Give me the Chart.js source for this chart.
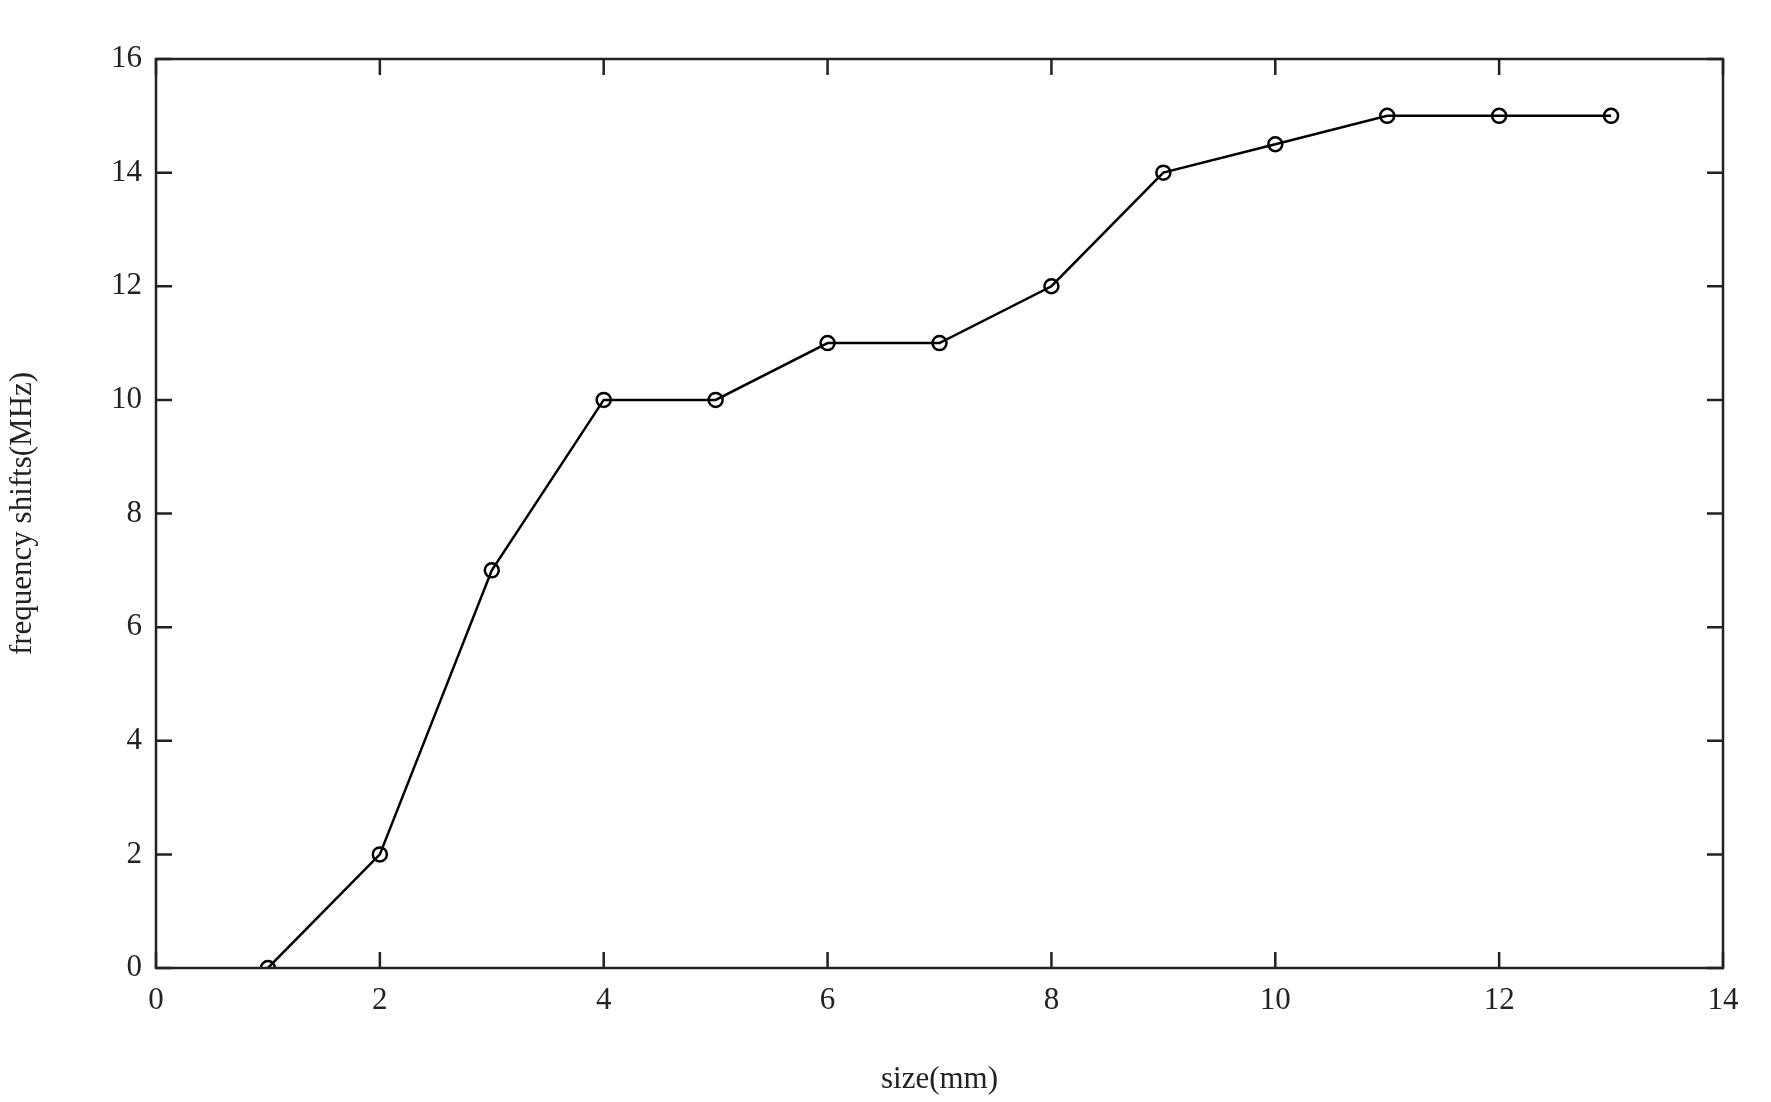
<!DOCTYPE html>
<html>
<head>
<meta charset="utf-8">
<script src="https://cdn.jsdelivr.net/npm/chart.js@4"></script>
<style>
  html, body { margin: 0; background: #fff; }
  #wrap { width: 1771px; height: 1102px; }
</style>
</head>
<body>
<div id="wrap"><canvas id="c"></canvas></div>
<script>
const sizes = [1, 2, 3, 4, 5, 6, 7, 8, 9, 10, 11, 12, 13];
const shifts = [0, 2, 7, 10, 10, 11, 11, 12, 14, 14.5, 15, 15, 15];
const xTicks = [0, 2, 4, 6, 8, 10, 12, 14];
const yTicks = [0, 2, 4, 6, 8, 10, 12, 14, 16];

const ink = '#222';
const font = { family: '"Liberation Serif", "Times New Roman", serif', size: 31 };

// inward ticks on all four sides plus the box, MATLAB style
const boxTicks = {
    id: 'boxTicks',
    afterDraw(chart) {
        const { ctx, chartArea: a, scales: { x, y } } = chart;
        ctx.save();
        ctx.strokeStyle = ink;
        ctx.lineWidth = 2.5;
        ctx.strokeRect(a.left, a.top, a.right - a.left, a.bottom - a.top);
        const len = 16;
        ctx.beginPath();
        xTicks.forEach(v => {
            const px = x.getPixelForValue(v);
            ctx.moveTo(px, a.bottom); ctx.lineTo(px, a.bottom - len);
            ctx.moveTo(px, a.top); ctx.lineTo(px, a.top + len);
        });
        yTicks.forEach(v => {
            const py = y.getPixelForValue(v);
            ctx.moveTo(a.left, py); ctx.lineTo(a.left + len, py);
            ctx.moveTo(a.right, py); ctx.lineTo(a.right - len, py);
        });
        ctx.stroke();
        ctx.restore();
    }
};

new Chart(document.getElementById('c'), {
    type: 'line',
    data: {
        datasets: [{
            data: sizes.map((s, i) => ({ x: s, y: shifts[i] })),
            borderColor: '#000',
            borderWidth: 2.5,
            pointStyle: 'circle',
            pointRadius: 7,
            pointBorderWidth: 2.5,
            pointBackgroundColor: 'rgba(0,0,0,0)',
            pointBorderColor: '#000',
            tension: 0
        }]
    },
    options: {
        responsive: true,
        maintainAspectRatio: false,
        animation: false,
        layout: { padding: { top: 59, right: 48, left: 0, bottom: 0 } },
        plugins: { legend: { display: false }, tooltip: { enabled: false } },
        scales: {
            x: {
                type: 'linear', min: 0, max: 14,
                afterBuildTicks: s => { s.ticks = xTicks.map(v => ({ value: v })); },
                afterFit: s => { s.height = 134; },
                grid: { display: false, drawTicks: false },
                border: { display: false },
                ticks: { color: ink, font, padding: 14 },
                title: { display: true, text: 'size(mm)', color: ink, font, padding: { top: 0 } }
            },
            y: {
                type: 'linear', min: 0, max: 16,
                afterBuildTicks: s => { s.ticks = yTicks.map(v => ({ value: v })); },
                afterFit: s => { s.width = 156; },
                grid: { display: false, drawTicks: false },
                border: { display: false },
                ticks: { color: ink, font, padding: 14 },
                title: { display: true, text: 'frequency shifts(MHz)', color: ink, font, padding: { bottom: 8 } }
            }
        }
    },
    plugins: [boxTicks]
});
</script>
</body>
</html>
